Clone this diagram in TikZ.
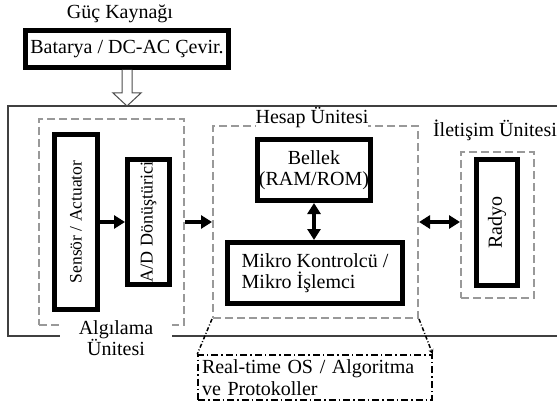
\documentclass[tikz,border=0pt]{standalone}
\usepackage{fontspec}
\setmainfont{Liberation Serif}
\usetikzlibrary{arrows.meta,calc}
\newcommand{\boxline}{5pt}
\newcommand{\txt}{\fontsize{20}{21}\selectfont}

\begin{document}
\begin{tikzpicture}[x=1pt,y=-1pt,
  blk/.style={draw, line width=\boxline, inner sep=0pt},
  zone/.style={draw=black!40, line width=2pt, dash pattern=on 8pt off 4pt},
  osbox/.style={draw, line width=1.5pt, dash pattern=on 7pt off 3pt on 1.5pt off 3pt},
  lbl/.style={font=\txt, inner sep=1pt},
  arr/.style={line width=4pt, -{Triangle[length=11pt,width=13pt]}},
  darr/.style={line width=4pt, {Triangle[length=11pt,width=13pt]}-{Triangle[length=11pt,width=13pt]}},
  hollow/.style={draw=black!70, line width=1pt, fill=white}]
\useasboundingbox (0,0) rectangle (557,409);

% power supply
\node (guc) at (120,14) [lbl] {Güç Kaynağı};
\node (bat) at (127,49) [blk, minimum width=203, minimum height=37, font=\txt] {Batarya / DC-AC Çevir.};

% node frame
\draw[black!75, line width=1.5pt] (570,106) -- (8,106) -- (8,336) -- (570,336);

% sensing unit
\node (alg) at (111.5,222) [zone, minimum width=145, minimum height=206] {};
\node (sen) at (76,222) [blk, minimum width=43, minimum height=175] {};
\node (sent) at (sen) [lbl, rotate=90, font=\fontsize{17.5}{18}\selectfont] {Sensör / Actuator};
\node (adc) at (148.5,222) [blk, minimum width=42, minimum height=125] {};
\node (adct) at (adc) [lbl, rotate=90, font=\fontsize{18}{18}\selectfont] {A/D Dönüştürici};
\node (algl) at (116,338) [lbl, fill=white, minimum width=112, align=center, font=\fontsize{20}{20}\selectfont] {Algılama\\Ünitesi};

% processing unit
\node (hes) at (315.5,222) [zone, minimum width=205, minimum height=192] {};
\node (hesl) at (312,118) [lbl, fill=white, inner sep=0pt] {Hesap Ünitesi};
\node (bel) at (314,170) [blk, minimum width=113, minimum height=61, align=center, font=\txt] {Bellek\\(RAM/ROM)};
\node (mcu) at (315,273) [blk, minimum width=175, minimum height=61, align=left, font=\txt] {Mikro Kontrolcü /\\Mikro İşlemci};

% communication unit
\node (iltl) at (495,130) [lbl] {İletişim Ünitesi};
\node (ilt) at (497.5,225) [zone, minimum width=73, minimum height=146] {};
\node (rad) at (497,222.5) [blk, minimum width=41, minimum height=126] {};
\node (radt) at (rad) [lbl, rotate=90] {Radyo};

% software
\node (rtos) at (315,377.5) [osbox, minimum width=234, minimum height=45, align=left, font=\fontsize{20}{22}\selectfont, text width=226] {Real-time OS / Algoritma\\ve Protokoller};

\draw[hollow] ($(bat.south)+(-5,0)$) -- ++(0,23) -- ++(-9,0) -- ($(bat.south)+(0,36)$)
  -- ($(bat.south)+(14,23)$) -- ++(-9,0) -- ($(bat.south)+(5,0)$);

\draw[arr] (sen) -- (adc);
\draw[arr] (alg) -- (hes);
\draw[darr] (bel.south) -- (bel.south |- mcu.north);
\draw[darr] (hes.east) -- (hes.east -| ilt.west);

\draw[line width=1.5pt, dash pattern=on 4pt off 2pt on 1pt off 2pt, -{Stealth[length=5pt,width=5pt]}]
(hes.south west) to (rtos.north west)
(hes.south east) to (rtos.north east);

\end{tikzpicture}
\end{document}
